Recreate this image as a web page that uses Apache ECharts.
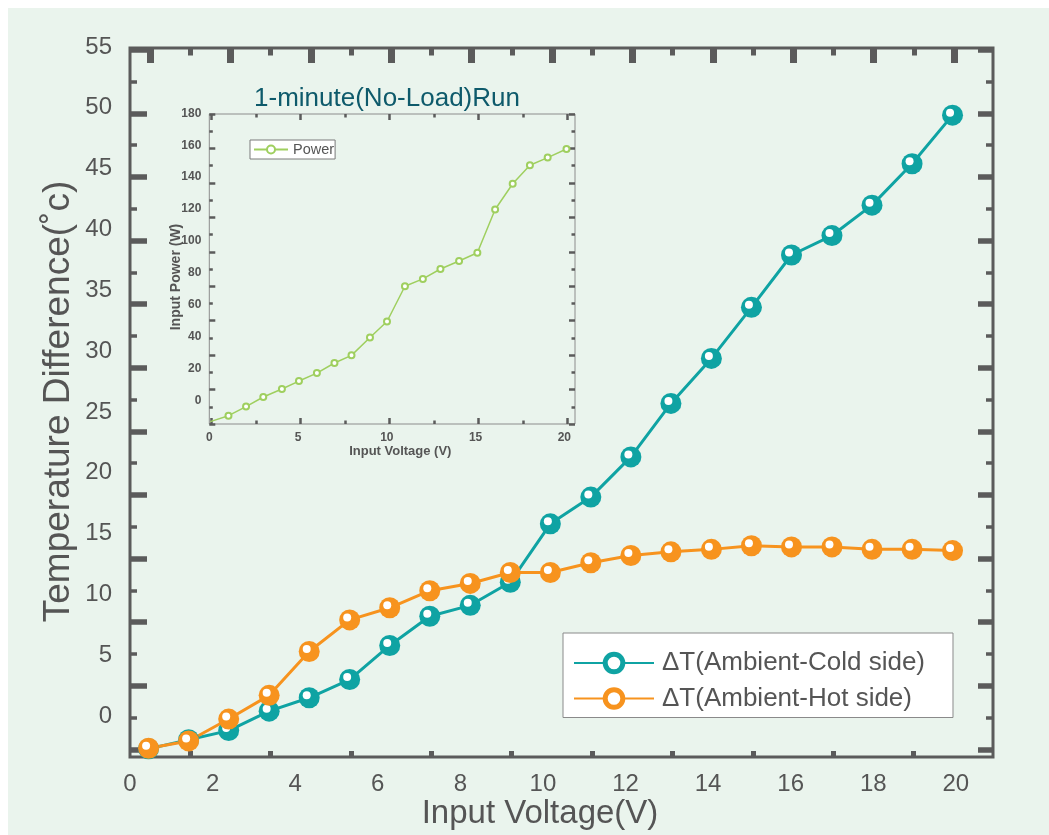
<!DOCTYPE html>
<html>
<head>
<meta charset="utf-8">
<script src="https://cdn.jsdelivr.net/npm/echarts@6/dist/echarts.min.js"></script>
<style>
  html, body { margin: 0; padding: 0; background: #ffffff; }
  #panel { position: absolute; left: 8px; top: 8px; right: 0; bottom: 0; background: #eaf4ed; }
  #chart { position: absolute; left: 0; top: 0; width: 1049px; height: 835px; }
</style>
</head>
<body>
<div id="panel"></div>
<div id="chart"></div>
<script>
// Main plot: temperature difference vs input voltage
const voltage = [0.45, 1.42, 2.39, 3.37, 4.34, 5.32, 6.29, 7.26, 8.24, 9.21, 10.18,
                 11.16, 12.13, 13.10, 14.08, 15.05, 16.02, 17.00, 17.97, 18.94, 19.92];
const coldSide = [-2.7, -1.95, -1.2, 0.4, 1.5, 3.0, 5.8, 8.2, 9.1, 11.0, 15.8,
                  18.0, 21.3, 25.7, 29.4, 33.6, 37.9, 39.5, 42.0, 45.4, 49.4];
const hotSide = [-2.65, -2.05, -0.25, 1.7, 5.3, 7.9, 8.9, 10.3, 10.9, 11.8, 11.8,
                 12.6, 13.2, 13.5, 13.7, 14.0, 13.9, 13.9, 13.7, 13.7, 13.6];

// Inset: input power vs input voltage
const insetVoltage = [0.05, 1.08, 2.07, 3.04, 4.09, 5.05, 6.06, 7.05, 8.01, 9.05, 10.01,
                      11.02, 12.03, 13.02, 14.07, 15.1, 16.1, 17.09, 18.06, 19.06, 20.12];
const insetPower = [-13.1, -9.4, -3.7, 2.3, 7.3, 12.3, 17.3, 23.6, 28.4, 39.6, 49.6,
                    71.7, 76.3, 82.5, 87.5, 92.7, 119.8, 135.9, 147.5, 152.3, 157.7];

const seriesNames = ['\u0394T(Ambient-Cold side)', '\u0394T(Ambient-Hot side)'];
const insetTitle = '1-minute(No-Load)Run';

const TEAL = '#0fa3a3';
const ORANGE = '#f7931e';
const GREEN = '#9fcf5f';
const AX = '#5b5b5b';
const TXT = '#555555';
const FONT = '"Liberation Sans", Arial, Helvetica, sans-serif';

const chart = echarts.init(document.getElementById('chart'), null, { renderer: 'canvas' });

const pairs = (xs, ys) => xs.map((x, i) => [x, ys[i]]);

function hiddenAxis(gridIndex) { return { type: 'value', gridIndex, show: false, min: 0, max: 1 }; }

// Axis that only carries a title (no line, ticks or labels)
function nameAxis(gridIndex, position, name, gap, fontSize, bold, rotate) {
  return {
    type: 'value', gridIndex, position, min: 0, max: 1,
    axisLine: { show: false, onZero: false }, axisTick: { show: false },
    axisLabel: { show: false }, splitLine: { show: false },
    name, nameLocation: 'middle', nameGap: gap, nameRotate: rotate,
    nameTextStyle: { fontSize, color: TXT, fontFamily: FONT, fontWeight: bold ? 'bold' : 'normal' }
  };
}

// Axis that only draws inward tick marks
function tickAxis(gridIndex, position, max, interval, major, minor) {
  return {
    type: 'value', gridIndex, position, min: 0, max, interval,
    axisLine: { show: false, onZero: false },
    axisLabel: { show: false },
    splitLine: { show: false },
    axisTick: { show: true, inside: true, length: major.length, lineStyle: { color: AX, width: major.width } },
    minorTick: minor
      ? { show: true, splitNumber: 2, length: minor.length, lineStyle: { color: AX, width: minor.width } }
      : { show: false }
  };
}

const option = {
  animation: false,
  backgroundColor: 'transparent',
  textStyle: { fontFamily: FONT },
  grid: [
    { left: 130, top: 48, width: 863, height: 709, show: true, borderColor: AX, borderWidth: 3, backgroundColor: 'transparent' }, // 0 data frame
    { left: 130, top: 47, width: 863, height: 669 },          // 1 y labels
    { left: 130, top: 49.7, width: 863, height: 699.6 },      // 2 left/right ticks
    { left: 150, top: 48, width: 804, height: 709 },          // 3 top ticks
    { left: 190, top: 48, width: 723.6, height: 709 },        // 4 bottom ticks
    { left: 209.3, top: 114, width: 365.7, height: 310, show: true, borderColor: '#8c8c8c', borderWidth: 1, backgroundColor: 'transparent' }, // 5 inset
    { left: 209.3, top: 113.3, width: 365.7, height: 287.4 }, // 6 inset y labels
    { left: 209.3, top: 114, width: 365.7, height: 310 },     // 7 inset left/right ticks
    { left: 211.5, top: 114, width: 356, height: 310 },       // 8 inset top/bottom ticks
    { left: 130, top: 53, width: 820, height: 704 },          // 9 main axis titles
    { left: 209.3, top: 130, width: 382, height: 294 }        // 10 inset axis titles
  ],
  xAxis: [
    {
      type: 'value', gridIndex: 0, min: 0, max: 20.9, interval: 2,
      axisLine: { show: false, onZero: false }, axisTick: { show: false }, splitLine: { show: false },
      axisLabel: {
        fontSize: 24, color: TXT, margin: 15, fontFamily: FONT,
        formatter: v => (Math.abs(v % 2) < 1e-6 ? String(v) : '')
      }
    },
    hiddenAxis(1),
    hiddenAxis(2),
    tickAxis(3, 'top', 10, 1, { length: 15, width: 7 }, { length: 7.5, width: 5 }),
    tickAxis(4, 'bottom', 9, 1, { length: 6, width: 5 }, null),
    {
      type: 'value', gridIndex: 5, min: 0, max: 20.6, interval: 5,
      axisLine: { show: false, onZero: false }, axisTick: { show: false }, splitLine: { show: false },
      axisLabel: {
        fontSize: 12, fontWeight: 'bold', color: TXT, margin: 8, fontFamily: FONT,
        formatter: v => (Math.abs(v % 5) < 1e-6 ? String(v) : '')
      }
    },
    hiddenAxis(6),
    hiddenAxis(7),
    tickAxis(8, 'top', 8, 2, { length: 6, width: 2.5 }, { length: 3.5, width: 2.5 }),
    tickAxis(8, 'bottom', 8, 2, { length: 6, width: 2.5 }, { length: 3.5, width: 2.5 }),
    nameAxis(9, 'bottom', 'Input Voltage(V)', 47, 33, false),
    nameAxis(10, 'bottom', 'Input Voltage (V)', 21, 13, true)
  ],
  yAxis: [
    { type: 'value', gridIndex: 0, show: false, min: -3.37, max: 54.92 },
    {
      type: 'value', gridIndex: 1, min: 0, max: 55, interval: 5,
      axisLine: { show: false, onZero: false }, axisTick: { show: false }, splitLine: { show: false },
      axisLabel: { fontSize: 24, color: TXT, margin: 18, fontFamily: FONT }
    },
    tickAxis(2, 'left', 11, 1, { length: 17, width: 5.5 }, { length: 7, width: 3.5 }),
    tickAxis(2, 'right', 11, 1, { length: 15, width: 5.5 }, { length: 7, width: 3.5 }),
    hiddenAxis(3),
    hiddenAxis(4),
    { type: 'value', gridIndex: 5, show: false, min: -14.6, max: 179.6 },
    {
      type: 'value', gridIndex: 6, min: 0, max: 180, interval: 20,
      axisLine: { show: false, onZero: false }, axisTick: { show: false }, splitLine: { show: false },
      axisLabel: { fontSize: 12, fontWeight: 'bold', color: TXT, margin: 8, fontFamily: FONT }
    },
    tickAxis(7, 'left', 18, 2, { length: 6, width: 2.5 }, { length: 3.5, width: 2.5 }),
    tickAxis(7, 'right', 18, 2, { length: 6, width: 2.5 }, { length: 3.5, width: 2.5 }),
    hiddenAxis(8),
    nameAxis(9, 'left', 'Temperature Difference(\u02DAc)', 53, 37, false, 90),
    nameAxis(10, 'left', 'Input Power (W)', 26, 14, true, 90)
  ],
  legend: [
    {
      data: [
        { name: seriesNames[0], itemStyle: { color: '#ffffff', borderColor: TEAL, borderWidth: 5 } },
        { name: seriesNames[1], itemStyle: { color: '#ffffff', borderColor: ORANGE, borderWidth: 5 } }
      ],
      orient: 'vertical', left: 563, top: 633,
      padding: [17, 28, 6, 10], itemGap: 9.5, itemWidth: 80, itemHeight: 22,
      backgroundColor: '#ffffff', borderColor: '#8a8a8a', borderWidth: 1, borderRadius: 0,
      textStyle: { fontSize: 26, color: TXT, fontFamily: FONT, padding: [0, 0, 0, 3] },
      selectedMode: false
    },
    {
      data: [{ name: 'Power', itemStyle: { color: '#ffffff', borderColor: GREEN, borderWidth: 2 } }],
      left: 250, top: 140,
      padding: [2, 1, 2, 3], itemWidth: 34, itemHeight: 10,
      backgroundColor: '#ffffff', borderColor: '#7a7a7a', borderWidth: 1, borderRadius: 0,
      textStyle: { fontSize: 14.5, color: TXT, fontFamily: FONT },
      selectedMode: false
    }
  ],
  graphic: [
    {
      type: 'text', x: 387, y: 99,
      style: {
        text: insetTitle, align: 'center', verticalAlign: 'middle',
        fontSize: 26, fill: '#0e5a6b', fontFamily: FONT
      }
    }
  ],
  series: [
    {
      name: seriesNames[0], type: 'line', xAxisIndex: 0, yAxisIndex: 0,
      data: pairs(voltage, coldSide),
      symbol: 'circle', symbolSize: 21,
      itemStyle: { color: TEAL },
      lineStyle: { color: TEAL, width: 3 },
      emphasis: { disabled: true }
    },
    {
      name: 'cold-highlight', type: 'line', xAxisIndex: 0, yAxisIndex: 0,
      data: pairs(voltage, coldSide),
      symbol: 'circle', symbolSize: 8, symbolOffset: [-2.5, -2.5],
      itemStyle: { color: '#ffffff' },
      lineStyle: { width: 0, opacity: 0 },
      emphasis: { disabled: true }, silent: true
    },
    {
      name: seriesNames[1], type: 'line', xAxisIndex: 0, yAxisIndex: 0,
      data: pairs(voltage, hotSide),
      symbol: 'circle', symbolSize: 21,
      itemStyle: { color: ORANGE },
      lineStyle: { color: ORANGE, width: 3 },
      emphasis: { disabled: true }
    },
    {
      name: 'hot-highlight', type: 'line', xAxisIndex: 0, yAxisIndex: 0,
      data: pairs(voltage, hotSide),
      symbol: 'circle', symbolSize: 8, symbolOffset: [-2.5, -2.5],
      itemStyle: { color: '#ffffff' },
      lineStyle: { width: 0, opacity: 0 },
      emphasis: { disabled: true }, silent: true
    },
    {
      name: 'Power', type: 'line', xAxisIndex: 5, yAxisIndex: 6,
      data: insetVoltage.map((x, i) => (i === 0
        ? { value: [x, insetPower[i]], symbol: 'none' }
        : [x, insetPower[i]])),
      symbol: 'circle', symbolSize: 6,
      itemStyle: { color: '#ffffff', borderColor: GREEN, borderWidth: 2 },
      lineStyle: { color: GREEN, width: 1.5 },
      emphasis: { disabled: true }
    }
  ]
};

chart.setOption(option);
</script>
</body>
</html>
